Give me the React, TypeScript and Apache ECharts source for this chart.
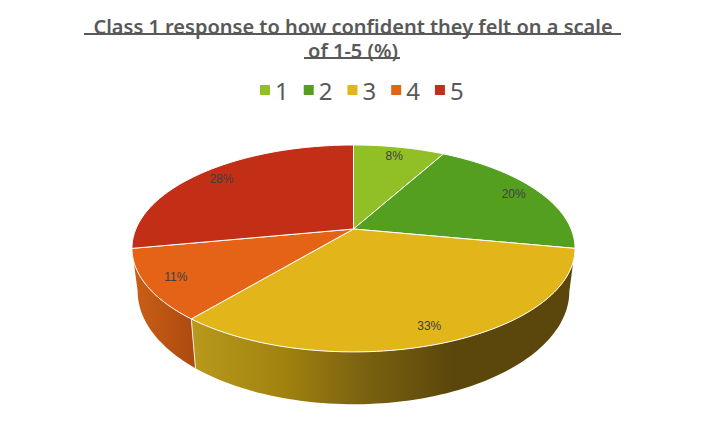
import React, { useEffect, useRef } from "react";
import * as echarts from "echarts";

const titleText = "Class 1 response to how confident they felt on a scale\nof 1-5 (%)";
const categories = ["1", "2", "3", "4", "5"];
const values = [8, 20, 33, 11, 28];
const colors = ["#90C026", "#549E20", "#E2B51B", "#E46316", "#C22E16"];
const labelFont = "'Liberation Sans Narrow', 'Liberation Sans', sans-serif";
const mainFont = "'Noto Sans', sans-serif";

const total = values.reduce((a, b) => a + b, 0);
const starts = values.map((_, i) => values.slice(0, i).reduce((a, b) => a + b, 0));

const CX = 353.5;
const K = 0.188;
const topFace = { a: 217.6, c: 99.8, y0: 229 };
const bottomFace = { a: 212, c: 109, y0: 270 };

function project(face: { a: number; c: number; y0: number }, frac: number, r = 1): number[] {
  const t = frac * Math.PI * 2;
  const x = Math.sin(t) * r;
  const y = -Math.cos(t) * r;
  const w = 1 - K * y;
  return [CX + (face.a * x) / w, face.y0 + (face.c * y) / w];
}

function arc(face: { a: number; c: number; y0: number }, f0: number, f1: number): number[][] {
  const n = Math.max(4, Math.ceil((f1 - f0) * 240));
  const pts: number[][] = [];
  for (let i = 0; i <= n; i++) pts.push(project(face, f0 + ((f1 - f0) * i) / n));
  return pts;
}

const sideFills: Record<number, any> = {
  2: {
    type: "linear", x: 194, y: 0, x2: 452, y2: 0, global: true,
    colorStops: [
      { offset: 0, color: "#B8991C" },
      { offset: 0.35, color: "#A0820F" },
      { offset: 0.62, color: "#7F6510" },
      { offset: 1, color: "#5B470B" },
    ],
  },
  3: {
    type: "linear", x: 138, y: 0, x2: 194, y2: 0, global: true,
    colorStops: [
      { offset: 0, color: "#C85D15" },
      { offset: 1, color: "#AD4A10" },
    ],
  },
};

function makeRender(index: number) {
  return (_params: any, api: any) => {
    const v = api.value(0);
    const f0 = starts[index] / total;
    const f1 = f0 + v / total;
    const children: any[] = [];
    const topArc = arc(topFace, f0, f1);
    if (sideFills[index]) {
      const botArc = arc(bottomFace, f0, f1);
      children.push({
        type: "polygon", z2: 1,
        shape: { points: [...topArc, ...botArc.reverse()] },
        style: { fill: sideFills[index] },
      });
      if (index === 2) {
        const a = project(topFace, f1);
        const b = project(bottomFace, f1);
        children.push({
          type: "line", z2: 2,
          shape: { x1: a[0], y1: a[1], x2: b[0], y2: b[1] },
          style: { stroke: "#F4EFD8", lineWidth: 1 },
        });
      }
    }
    children.push({
      type: "polygon", z2: 3,
      shape: { points: [[CX, topFace.y0], ...topArc] },
      style: { fill: colors[index], stroke: "#FFFFFF", lineWidth: 1, lineJoin: "round" },
    });
    const p = project(topFace, (f0 + f1) / 2, 0.87);
    children.push({
      type: "text", z2: 4,
      style: {
        text: `${v}%`, x: p[0], y: p[1], align: "center", verticalAlign: "middle",
        fontFamily: labelFont, fontSize: 12, fill: "#404040",
      },
    });
    return { type: "group", children };
  };
}

export default function App() {
  const ref = useRef<HTMLDivElement>(null);
  useEffect(() => {
    document.body.style.margin = "0";
    const chart = echarts.init(ref.current!, undefined, { renderer: "svg" });
    chart.setOption({
      animation: false,
      backgroundColor: "#FFFFFF",
      color: colors,
      title: {
        text: titleText,
        left: "center",
        top: 9,
        itemGap: 0,
        textStyle: { fontFamily: mainFont, fontSize: 20, fontWeight: 600, color: "#595959", lineHeight: 24 },
      },
      legend: {
        left: 255,
        top: 73,
        icon: "rect",
        itemWidth: 10,
        itemHeight: 10,
        itemGap: 15,
        selectedMode: false,
        textStyle: { fontFamily: mainFont, fontSize: 24, color: "#595959", padding: [0, 0, 0, 0] },
        data: categories,
      },
      graphic: [
        { type: "rect", shape: { x: 84, y: 33, width: 537, height: 2 }, style: { fill: "#595959" } },
        { type: "rect", shape: { x: 304, y: 57, width: 96, height: 2 }, style: { fill: "#595959" } },
      ],
      series: categories.map((name, i) => ({
        type: "custom",
        name,
        coordinateSystem: "none",
        itemStyle: { color: colors[i] },
        renderItem: makeRender(i),
        data: [[values[i]]],
      })),
    });
    return () => chart.dispose();
  }, []);
  return <div ref={ref} style={{ width: 706, height: 444 }} />;
}
